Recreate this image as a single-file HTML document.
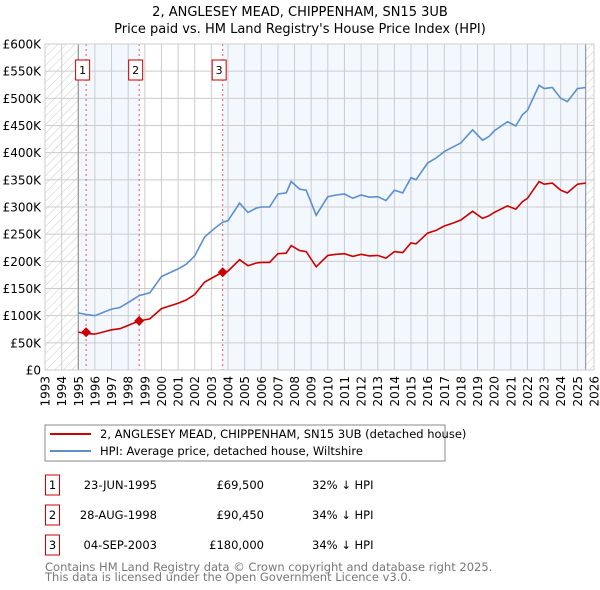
<!DOCTYPE html>
<html><head><meta charset="utf-8"><style>
body{margin:0;background:#fff;}
svg{display:block;font-family:"DejaVu Sans","Liberation Sans",sans-serif;}
</style></head><body>
<svg id="chart" width="600" height="590" viewBox="0 0 600 590" xmlns="http://www.w3.org/2000/svg">
<defs>
<pattern id="hatch" patternUnits="userSpaceOnUse" width="6" height="6" patternTransform="rotate(45)">
<line x1="0" y1="0" x2="0" y2="6" stroke="#ccc" stroke-width="1"/>
</pattern>
</defs>
<text x="300" y="16" text-anchor="middle" font-size="13">2, ANGLESEY MEAD, CHIPPENHAM, SN15 3UB</text>
<text x="300" y="33" text-anchor="middle" font-size="13">Price paid vs. HM Land Registry's House Price Index (HPI)</text>
<g id="plot"></g>
<g>
<rect x="45" y="425" width="400" height="36" fill="#fff" stroke="#888"/>
<line x1="50" y1="434" x2="91" y2="434" stroke="#cc0000" stroke-width="2"/>
<text x="100" y="438" font-size="11.5">2, ANGLESEY MEAD, CHIPPENHAM, SN15 3UB (detached house)</text>
<line x1="50" y1="451" x2="91" y2="451" stroke="#5b8fd0" stroke-width="2"/>
<text x="100" y="455" font-size="11.5">HPI: Average price, detached house, Wiltshire</text>
</g>
<g id="table" font-size="11.5"></g>
<text x="45" y="571" font-size="11.5" fill="#777">Contains HM Land Registry data © Crown copyright and database right 2025.</text>
<text x="45" y="581" font-size="11.5" fill="#777">This data is licensed under the Open Government Licence v3.0.</text>
</svg>
<script>
const yTicks=[0,50,100,150,200,250,300,350,400,450,500,550,600];
const yTickLabels=["£0","£50K","£100K","£150K","£200K","£250K","£300K","£350K","£400K","£450K","£500K","£550K","£600K"];
const xYears=[1993,1994,1995,1996,1997,1998,1999,2000,2001,2002,2003,2004,2005,2006,2007,2008,2009,2010,2011,2012,2013,2014,2015,2016,2017,2018,2019,2020,2021,2022,2023,2024,2025,2026];
const hpiDates=[1995.0,1995.5,1996.0,1996.5,1997.0,1997.5,1998.0,1998.66,1999.3,2000.0,2001.0,2001.5,2002.0,2002.6,2003.2,2003.68,2004.0,2004.7,2005.2,2005.7,2006.0,2006.5,2007.0,2007.5,2007.8,2008.3,2008.7,2009.3,2010.0,2010.5,2011.0,2011.5,2012.0,2012.5,2013.0,2013.5,2014.0,2014.5,2015.0,2015.3,2016.0,2016.5,2017.0,2017.5,2018.0,2018.7,2019.3,2019.7,2020.0,2020.8,2021.3,2021.7,2022.0,2022.7,2023.0,2023.5,2024.0,2024.4,2025.0,2025.5];
const hpiValues=[105,102,100,106,112,115,124,137,142,172,186,195,210,245,261,272,275,307,290,298,300,300,324,326,347,333,331,285,319,322,324,316,322,318,319,312,331,326,354,350,381,390,402,410,418,442,423,430,440,457,449,470,478,524,518,520,500,494,518,520];
const paidValues=[69.5,67,66,70,74,76,82,90.45,94,113,123,129,139,162,172,180,182,203,192,197,198,198,214,215,229,220,218,190,211,213,214,209,213,210,211,206,218,216,234,232,252,257,265,270,276,292,279,284,290,302,296,310,316,347,342,344,331,326,342,344];
const saleDates=[1995.47,1998.66,2003.68];
const salePrices=[69.5,90.45,180];
const saleLabels=["1","2","3"];
const saleDateText=["23-JUN-1995","28-AUG-1998","04-SEP-2003"];
const salePriceText=["£69,500","£90,450","£180,000"];
const saleDiffText=["32% ↓ HPI","34% ↓ HPI","34% ↓ HPI"];

const X0=45,X1=594,Y0=370,Y1=44;
const xs=y=>X0+(y-1993)/(2026-1993)*(X1-X0);
const ys=v=>Y0-v/600*(Y0-Y1);
const NS="http://www.w3.org/2000/svg";
function mk(tag,attrs,parent){const e=document.createElementNS(NS,tag);for(const k in attrs)e.setAttribute(k,attrs[k]);parent.appendChild(e);return e;}
const plot=document.getElementById('plot');
let r=mk('rect',{x:xs(1995),y:Y1,width:xs(saleDates[1])-xs(1995),height:Y0-Y1,fill:'#f3f7fe'},plot);


r=mk('rect',{x:xs(saleDates[2]),y:Y1,width:xs(2025.5)-xs(saleDates[2]),height:Y0-Y1,fill:'#f3f7fe'},plot);


r=mk('rect',{x:X0,y:Y1,width:xs(1995)-X0,height:Y0-Y1,fill:'url(#hatch)'},plot);


r=mk('rect',{x:xs(2025.5),y:Y1,width:X1-xs(2025.5),height:Y0-Y1,fill:'url(#hatch)'},plot);


yTicks.forEach((t,i)=>{
 const l=mk('line',{x1:X0,x2:X1,y1:ys(t),y2:ys(t),stroke:'#ccc','stroke-width':1},plot);
 
 
 const tx=mk('text',{x:41,y:ys(t)+4.5,'text-anchor':'end','font-size':12},plot);
 
 
 tx.textContent=yTickLabels[i];
});
xYears.forEach(yr=>{
 const l=mk('line',{x1:xs(yr),x2:xs(yr),y1:Y1,y2:Y0,stroke:'#ccc','stroke-width':1},plot);
 
 
 const tx=mk('text',{x:0,y:0,'text-anchor':'end','font-size':12,transform:`translate(${xs(yr)+4.5},376) rotate(-90)`},plot);
 
 
 tx.textContent=yr;
});
[1995,2025.5].forEach(yr=>{
 const l=mk('line',{x1:xs(yr),x2:xs(yr),y1:Y1,y2:Y0,stroke:'#888','stroke-width':1},plot);
 
 
});
saleDates.forEach((d,i)=>{
 const l=mk('line',{x1:xs(d),x2:xs(d),y1:Y1,y2:Y0,stroke:'#e55','stroke-width':1,'stroke-dasharray':'2,3'},plot);
 
 
 const b=mk('rect',{x:xs(d)-10.5,y:60,width:14,height:20,fill:'#fff',stroke:'#cc0000'},plot);
 
 
 const t=mk('text',{x:xs(d)-3.5,y:74,'text-anchor':'middle','font-size':11},plot);
 
 
 t.textContent=saleLabels[i];
});
const pts=(d,v)=>d.map((x,i)=>xs(x).toFixed(1)+','+ys(v[i]).toFixed(1)).join(' ');
let p=mk('polyline',{points:pts(hpiDates,hpiValues),fill:'none',stroke:'#5b8fd0','stroke-width':1.6},plot);


p=mk('polyline',{points:pts(hpiDates,paidValues),fill:'none',stroke:'#cc0000','stroke-width':1.6},plot);


saleDates.forEach((d,i)=>{
 const cx=xs(d),cy=ys(salePrices[i]);
 const m=mk('polygon',{points:`${cx},${cy-5} ${cx+5},${cy} ${cx},${cy+5} ${cx-5},${cy}`,fill:'#cc0000'},plot);
 
 
});
mk('rect',{x:X0,y:Y1,width:X1-X0,height:Y0-Y1,fill:'none',stroke:'#ccc'},plot);
const tb=document.getElementById('table');
saleDates.forEach((d,i)=>{
 const y0=475+i*30;
 const g=mk('g',{},tb);
 
 
 mk('rect',{x:45.5,y:y0,width:14,height:20,fill:'#fff',stroke:'#cc0000'},g);
 let t=mk('text',{x:52.5,y:y0+14,'text-anchor':'middle'},g);t.textContent=saleLabels[i];
 t=mk('text',{x:157,y:y0+14,'text-anchor':'end'},g);t.textContent=saleDateText[i];
 t=mk('text',{x:264,y:y0+14,'text-anchor':'end'},g);t.textContent=salePriceText[i];
 t=mk('text',{x:312,y:y0+14},g);t.textContent=saleDiffText[i];
});
</script>
</body></html>
